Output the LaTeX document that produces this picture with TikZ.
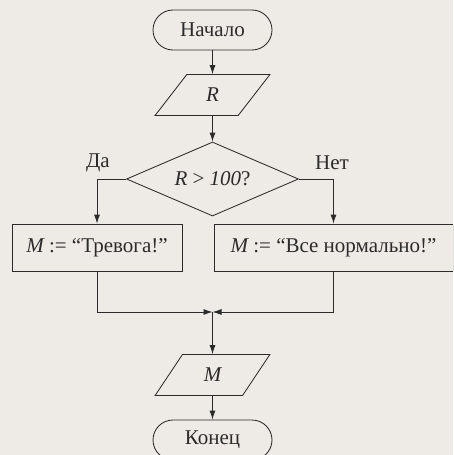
\documentclass[tikz,border=0pt]{standalone}
\usepackage{fontspec}
\setmainfont{Liberation Serif}
\usetikzlibrary{shapes.geometric,arrows.meta}

\definecolor{paper}{HTML}{EEEBE6}
\definecolor{ink}{HTML}{2B2B2B}

\tikzset{
  every node/.style={text=ink, font=\fontsize{21}{24}\selectfont},
  terminal/.style={draw=ink, line width=0.85pt, rounded corners=20pt,
    minimum width=119pt, minimum height=40pt, inner sep=0pt},
  io/.style={draw=ink, line width=0.85pt, trapezium, trapezium stretches=true,
    trapezium left angle=60, trapezium right angle=120,
    minimum width=115pt, minimum height=41pt, inner sep=0pt},
  test/.style={draw=ink, line width=0.85pt, diamond, aspect=2.3,
    minimum width=172pt, minimum height=74pt, inner sep=0pt},
  action/.style={draw=ink, line width=0.85pt, rectangle,
    minimum height=47pt, inner sep=0pt},
  flow/.style={draw=ink, line width=0.85pt, -{Latex[length=9pt,width=6pt]}}
}

\begin{document}
\begin{tikzpicture}
  [x=1pt, y=-1pt]
  \useasboundingbox (0,0) rectangle (453,455);
  \clip (0,0) rectangle (453,455);
  \fill[paper] (0,0) rectangle (453,455);

  \node[terminal] (start) at (212.5, 30) {Начало};
  \node[io] (inR) at (212.5, 95) {\itshape R};
  \node[test] (cond) at (212.5, 179) {{\itshape R} > {\itshape 100}?};
  \node[action, minimum width=170pt] (alarm) at (97, 247.5) {{\itshape M} := “Тревога!”};
  \node[action, minimum width=239pt] (ok) at (333.5, 247.5) {{\itshape M} := “Все нормально!”};
  \coordinate (join) at (212.5, 312);
  \node[io] (outM) at (212.5, 375) {\itshape M};
  \node[terminal] (stop) at (212.5, 440) {Конец};

  \node at (98, 163) {Да};
  \node at (332, 163) {Нет};

  \foreach \from/\to in {start/inR,inR/cond,join/outM,outM/stop}
  \draw[flow] (\from) -- (\to);
  \draw[flow] (cond.west) -| (alarm.north);
  \draw[flow] (cond.east) -| (ok.north);
  \draw[flow] (alarm.south) |- (join);
  \draw[flow] (ok.south) |- (join);
\end{tikzpicture}
\end{document}
